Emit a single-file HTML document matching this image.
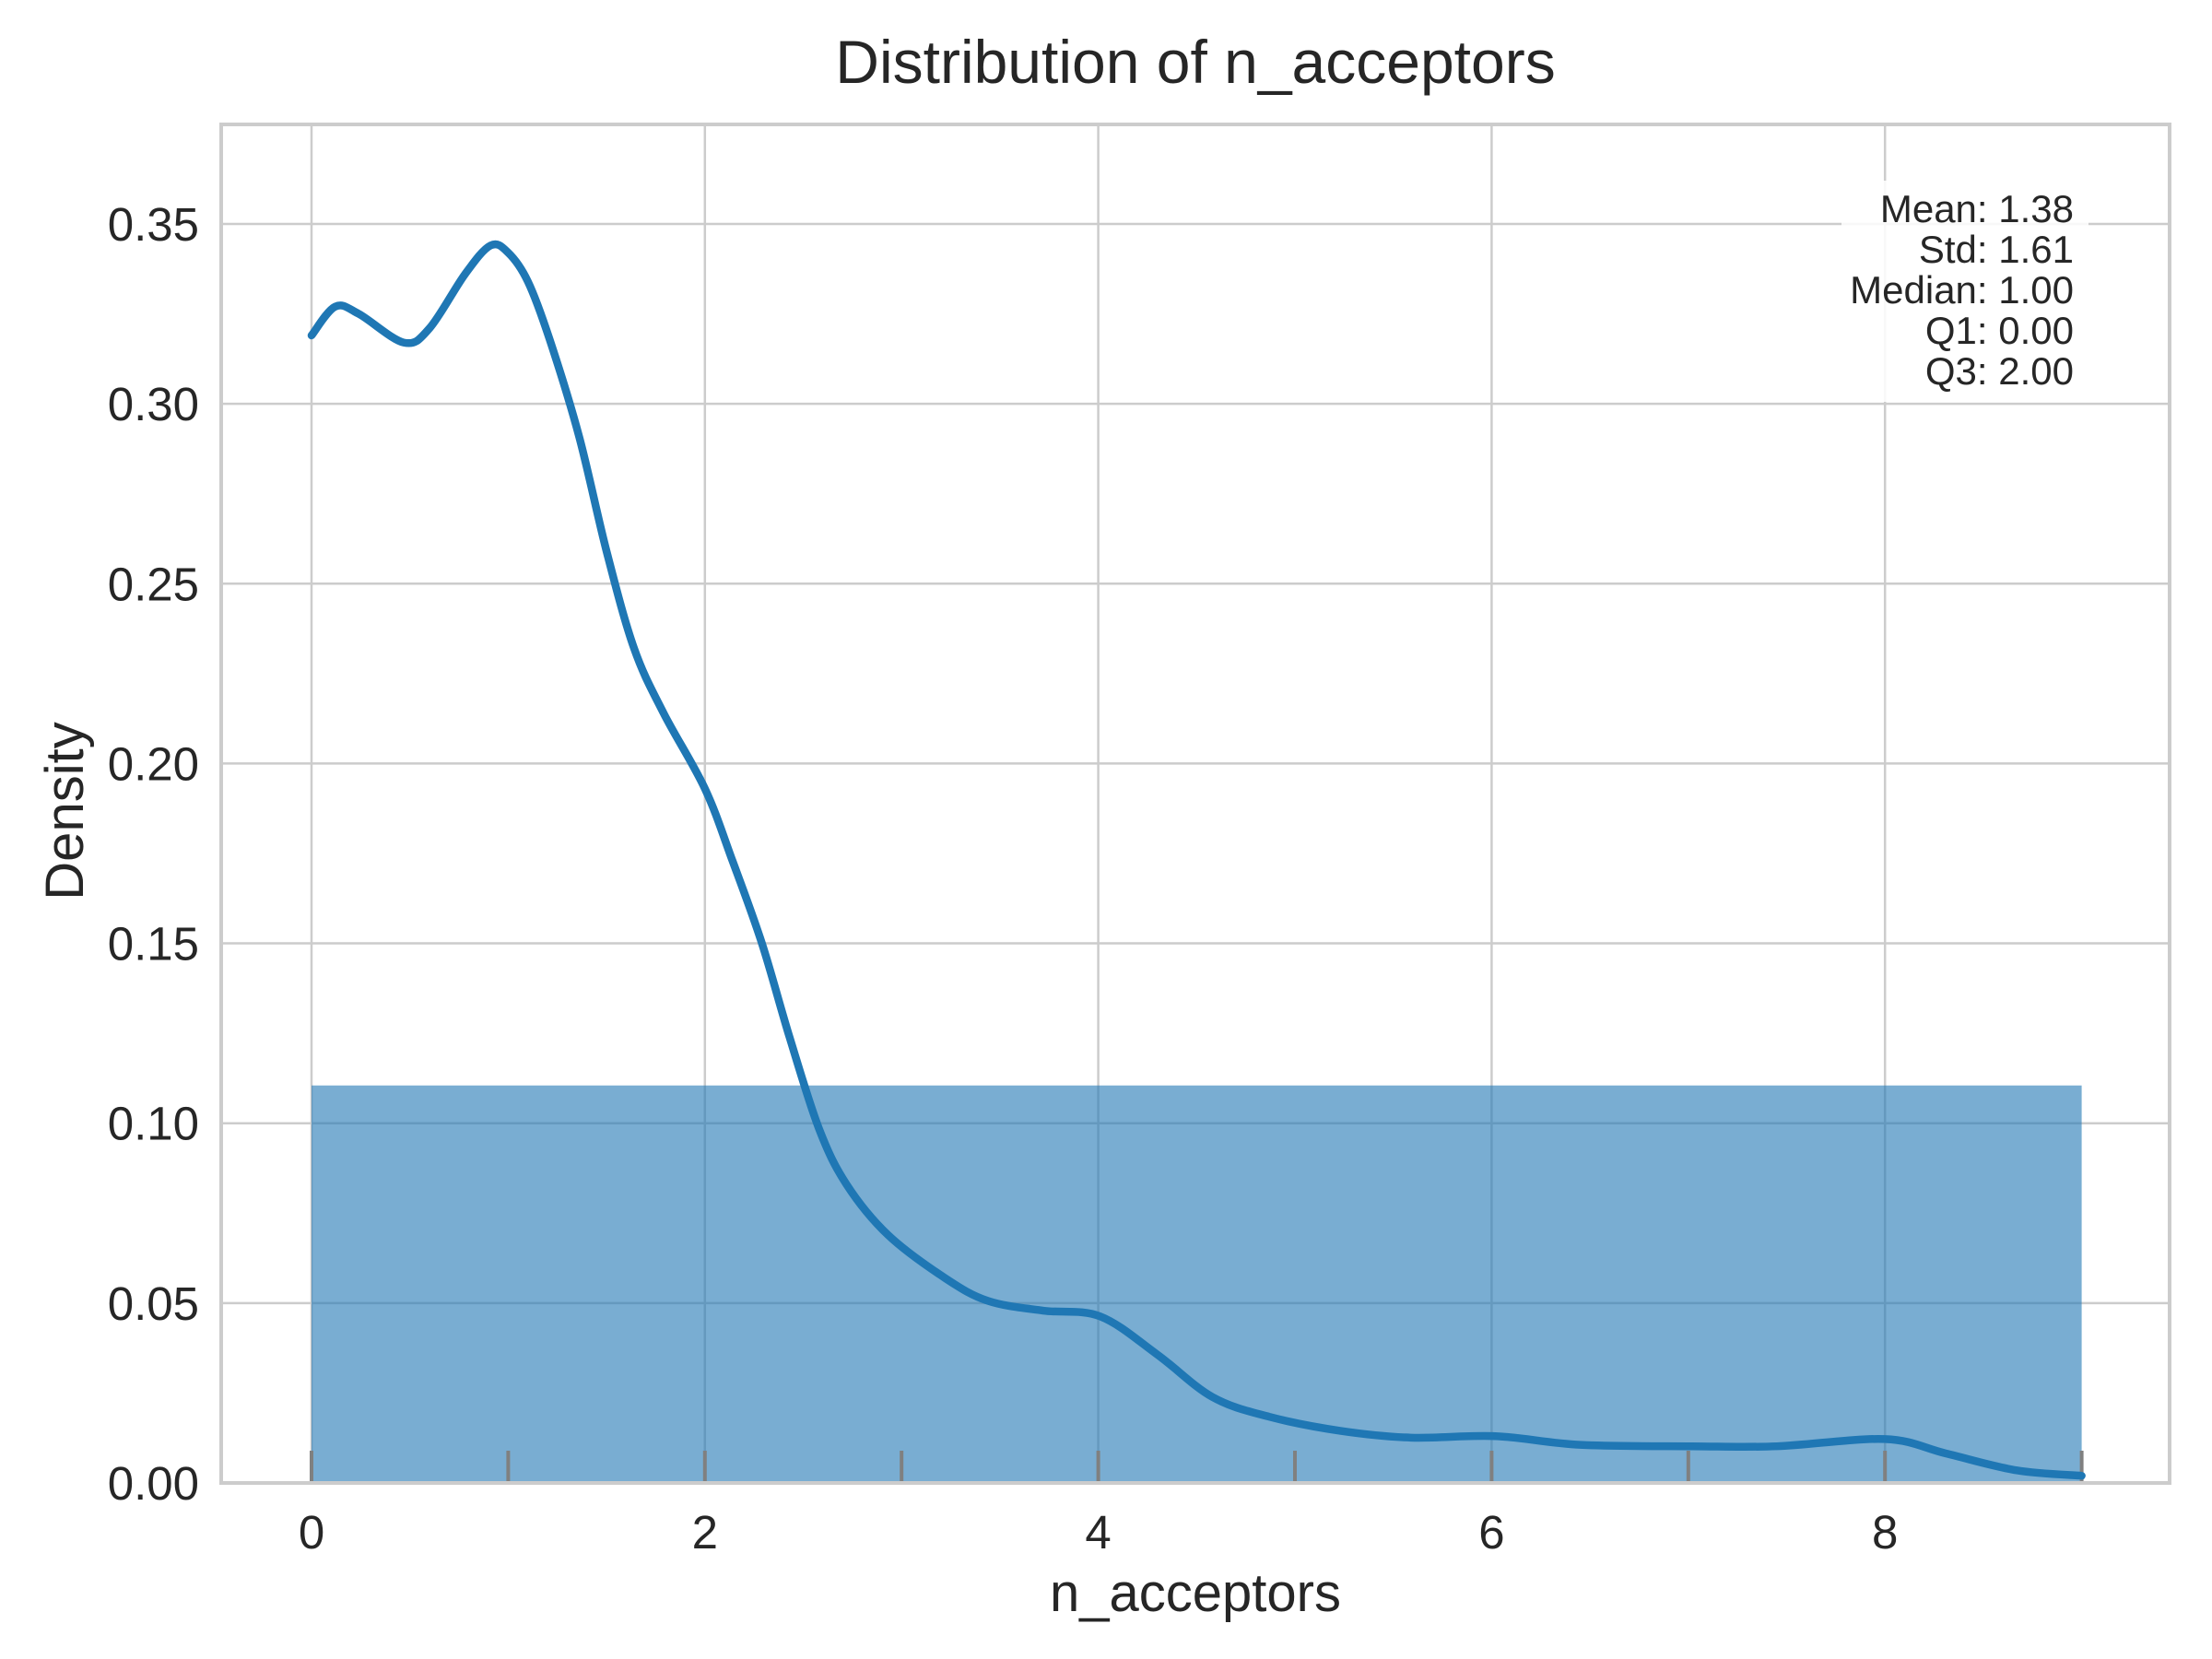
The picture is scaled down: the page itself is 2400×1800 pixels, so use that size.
<!DOCTYPE html>
<html><head><meta charset="utf-8"><style>
html,body{margin:0;padding:0;background:#fff;}
svg{display:block;font-family:"Liberation Sans",Arial,sans-serif;}
</style></head><body>
<svg id="chart" width="2400" height="1800" viewBox="0 0 2400 1800" xmlns="http://www.w3.org/2000/svg"></svg>
<script>
const xTicks=[0,2,4,6,8];
const yTicks=[0,0.05,0.10,0.15,0.20,0.25,0.30,0.35];
const yTickLabels=["0.00","0.05","0.10","0.15","0.20","0.25","0.30","0.35"];
const histEdges=[0,9];
const histHeights=[0.1105];
const rugValues=[0,1,2,3,4,5,6,7,8,9];
const kdeX=[0,0.12,0.24,0.47,0.6,0.78,0.91,1.0,1.1,1.21,1.36,1.5,1.64,1.79,2.0,2.14,2.29,2.43,2.58,2.72,2.93,3.22,3.44,3.72,4.01,4.3,4.58,4.87,5.23,5.59,6.02,6.45,7.02,7.45,8.0,8.31,8.67,9.0];
const kdeY=[0.319,0.327,0.325,0.317,0.321,0.336,0.344,0.342,0.334,0.318,0.291,0.259,0.232,0.214,0.193,0.173,0.150,0.124,0.0985,0.083,0.069,0.057,0.0506,0.0479,0.0463,0.0357,0.0239,0.0184,0.0145,0.0126,0.0130,0.0106,0.0102,0.0102,0.0122,0.0082,0.0035,0.002];
const statsLines=["Mean: 1.38","Std: 1.61","Median: 1.00","Q1: 0.00","Q3: 2.00"];

const L=240,R=2354,T=135,B=1609;
const sx=v=>338+v*213.4;
const sy=v=>1609-v*3903;
const svg=document.getElementById('chart');
const NS='http://www.w3.org/2000/svg';
function mk(tag,attrs,parent){const e=document.createElementNS(NS,tag);for(const k in attrs)e.setAttribute(k,attrs[k]);(parent||svg).appendChild(e);return e;}

yTicks.forEach((t,i)=>{
  const g=mk('line',{x1:L,x2:R,y1:sy(t),y2:sy(t),stroke:'#cccccc','stroke-width':2.5});
  
  
  const tx=mk('text',{x:216,y:sy(t)+18,'text-anchor':'end','font-size':51,fill:'#262626'});
  tx.textContent=yTickLabels[i];
  
  
});
xTicks.forEach(t=>{
  const g=mk('line',{x1:sx(t),x2:sx(t),y1:T,y2:B,stroke:'#cccccc','stroke-width':2.5});
  
  
  const tx=mk('text',{x:sx(t),y:1680,'text-anchor':'middle','font-size':51,fill:'#262626'});
  tx.textContent=String(t);
  
  
});

histHeights.forEach((h,i)=>{
  const r=mk('rect',{x:sx(histEdges[i]),y:sy(h),width:sx(histEdges[i+1])-sx(histEdges[i]),height:sy(0)-sy(h),fill:'#1f77b4','fill-opacity':0.6});
  
  
});

rugValues.forEach(v=>{
  const l=mk('line',{x1:sx(v),x2:sx(v),y1:sy(0)-35,y2:sy(0),stroke:'#808080','stroke-width':4});
  
  
});

const pts=kdeX.map((x,i)=>[sx(x),sy(kdeY[i])]);
let d='M'+pts[0][0]+','+pts[0][1];
for(let i=0;i<pts.length-1;i++){
  const p0=pts[Math.max(0,i-1)],p1=pts[i],p2=pts[i+1],p3=pts[Math.min(pts.length-1,i+2)];
  const c1=[p1[0]+(p2[0]-p0[0])/6,p1[1]+(p2[1]-p0[1])/6];
  const c2=[p2[0]-(p3[0]-p1[0])/6,p2[1]-(p3[1]-p1[1])/6];
  d+=` C${c1[0]},${c1[1]} ${c2[0]},${c2[1]} ${p2[0]},${p2[1]}`;
}
const kde=mk('path',{d:d,fill:'none',stroke:'#1f77b4','stroke-width':8.5,'stroke-linecap':'round','stroke-linejoin':'round'});



const sp=mk('rect',{x:L,y:T,width:R-L,height:B-T,fill:'none',stroke:'#cccccc','stroke-width':4});



const box=mk('rect',{x:1998,y:196,width:268,height:240,rx:8,fill:'#ffffff','fill-opacity':0.85});


statsLines.forEach((s,i)=>{
  const t=mk('text',{x:2250,y:241+i*44,'text-anchor':'end','font-size':42,fill:'#262626'});
  t.textContent=s;
  
  
});

const title=mk('text',{x:1297,y:90,'text-anchor':'middle','font-size':66,fill:'#262626'});
title.textContent='Distribution of n_acceptors';


const xl=mk('text',{x:1297,y:1748,'text-anchor':'middle','font-size':58,fill:'#262626'});
xl.textContent='n_acceptors';


const yl=mk('text',{x:90,y:880,'text-anchor':'middle','font-size':58,fill:'#262626',transform:'rotate(-90 90 880)'});
yl.textContent='Density';


</script>
</body></html>
